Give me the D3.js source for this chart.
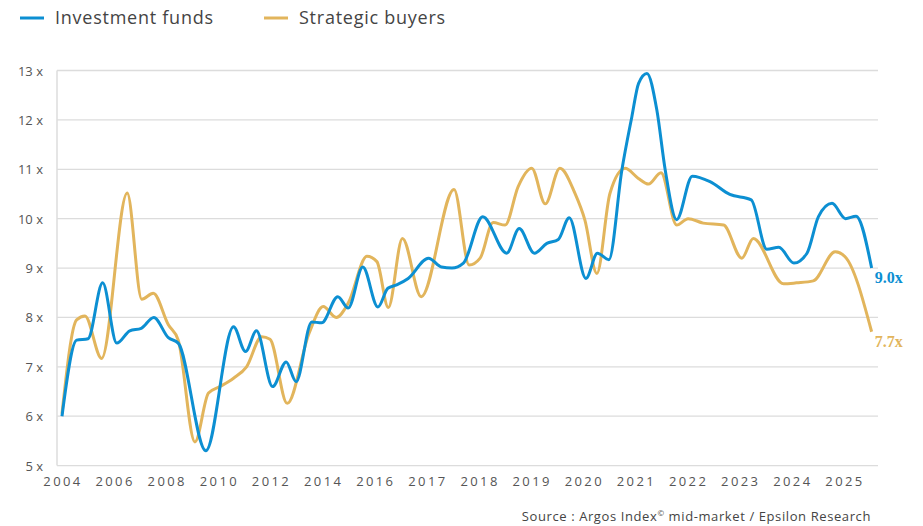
<!DOCTYPE html>
<html>
<head>
<meta charset="utf-8">
<script src="https://cdn.jsdelivr.net/npm/d3@7"></script>
<style>
  html, body { margin: 0; padding: 0; background: #fff; }
  svg { display: block; }
</style>
</head>
<body>
<svg id="chart" width="923" height="526"></svg>
<script>
// ---- Data (x = position along the category axis, 0 = 2004 label, 1 unit per label) ----
const tickLabels = ["2004","2006","2008","2010","2012","2014","2016","2017","2018","2019","2020","2021","2022","2023","2024","2025"];
const yTicks = [5, 6, 7, 8, 9, 10, 11, 12, 13];

const seriesNames = ["Investment funds", "Strategic buyers"];

const investPos = [0,0.28,0.50,0.78,1.05,1.30,1.52,1.76,2.04,2.23,2.76,3.29,3.52,3.73,4.04,4.30,4.49,4.79,4.98,5.29,5.49,5.77,6.06,6.25,6.42,6.64,7.03,7.28,7.48,7.70,8.07,8.53,8.77,9.06,9.30,9.52,9.73,10.05,10.27,10.49,10.74,10.93,11.06,11.22,11.41,11.57,11.79,12.09,12.43,12.81,13.22,13.52,13.75,14.04,14.29,14.51,14.77,15.03,15.23,15.53];
const investVal = [6.0,7.54,7.57,8.70,7.48,7.73,7.78,8.0,7.59,7.48,5.30,7.81,7.31,7.73,6.60,7.10,6.70,7.91,7.89,8.42,8.19,9.02,8.21,8.59,8.66,8.79,9.20,9.02,9.0,9.10,10.04,9.30,9.80,9.30,9.50,9.58,10.02,8.79,9.30,9.17,10.99,12.06,12.74,12.94,12.2,10.99,9.98,10.86,10.75,10.49,10.38,9.38,9.42,9.10,9.30,10.04,10.31,10.0,10.05,9.0];

const strategicPos = [0,0.28,0.44,0.76,1.25,1.53,1.75,2.04,2.23,2.55,2.81,3.03,3.29,3.54,3.83,3.99,4.32,4.74,5.01,5.26,5.49,5.85,6.04,6.26,6.53,6.89,7.52,7.81,8.02,8.27,8.50,8.75,9.01,9.27,9.55,9.84,10.03,10.26,10.51,10.80,11.05,11.25,11.49,11.79,12.01,12.30,12.69,13.04,13.26,13.84,14.09,14.41,14.83,15.02,15.53];
const strategicVal = [6.05,7.95,8.03,7.17,10.52,8.37,8.49,7.85,7.54,5.48,6.47,6.60,6.77,7.0,7.61,7.56,6.26,7.68,8.22,8.0,8.29,9.24,9.13,8.20,9.60,8.42,10.59,9.06,9.20,9.92,9.87,10.65,11.02,10.30,11.02,10.51,9.97,8.89,10.51,11.02,10.82,10.70,10.93,9.87,10.0,9.91,9.87,9.20,9.60,8.68,8.70,8.74,9.33,9.23,7.71];

const endLabels = ["9.0x", "7.7x"];
const sourceText = "Source : Argos Index";
const sourceSup = "©";
const sourceTail = " mid-market / Epsilon Research";

const colors = ["#0c8fd2", "#e2b55c"];
const font = "'Open Sans', 'Noto Sans', sans-serif";

// ---- Layout ----
const svg = d3.select("#chart");
const x = d3.scaleLinear().domain([0, 15]).range([62, 844]);
const y = d3.scaleLinear().domain([5, 13]).range([465.6, 70.5]);
const plotLeft = 57, plotRight = 878;

// gridlines
svg.append("g").selectAll("line").data(yTicks).join("line")
  .attr("x1", plotLeft).attr("x2", plotRight)
  .attr("y1", d => y(d)).attr("y2", d => y(d))
  .attr("stroke", "#dcdcdc").attr("stroke-width", 1.3);

// left axis line
svg.append("line")
  .attr("x1", plotLeft).attr("x2", plotLeft)
  .attr("y1", y(13)).attr("y2", y(5))
  .attr("stroke", "#dcdcdc").attr("stroke-width", 1.5);

// y tick labels
svg.append("g").selectAll("text").data(yTicks).join("text")
  .attr("x", 43).attr("y", d => y(d) + 5)
  .attr("text-anchor", "end")
  .attr("font-family", font)
  .attr("font-size", 13)
  .attr("fill", "#555")
  .text(d => d + " x");

// x tick labels
svg.append("g").selectAll("text").data(tickLabels).join("text")
  .attr("x", (d, i) => x(i) + 1).attr("y", 486)
  .attr("text-anchor", "middle")
  .attr("font-family", font)
  .attr("font-size", 13)
  .attr("letter-spacing", "2.4px")
  .attr("fill", "#555")
  .text(d => d);

// lines
const line = d3.line().curve(d3.curveMonotoneX).x(d => x(d[0])).y(d => y(d[1]));
const seriesData = [
  d3.zip(investPos, investVal),
  d3.zip(strategicPos, strategicVal)
];
svg.append("path").datum(seriesData[1])
  .attr("d", line).attr("fill", "none")
  .attr("stroke", colors[1]).attr("stroke-width", 3)
  .attr("stroke-linejoin", "round");
svg.append("path").datum(seriesData[0])
  .attr("d", line).attr("fill", "none")
  .attr("stroke", colors[0]).attr("stroke-width", 3)
  .attr("stroke-linejoin", "round");

// end labels
seriesData.forEach((s, i) => {
  const last = s[s.length - 1];
  svg.append("text")
    .attr("x", x(last[0]) + 3)
    .attr("y", y(last[1]) + 15)
    .attr("font-family", "'Liberation Serif', 'DejaVu Serif', serif")
    .attr("font-weight", "bold")
    .attr("font-size", 16)
    .attr("fill", colors[i])
    .text(endLabels[i]);
});

// legend
const legend = svg.append("g");
const legendX = [20, 264];
seriesNames.forEach((n, i) => {
  legend.append("line")
    .attr("x1", legendX[i]).attr("x2", legendX[i] + 24)
    .attr("y1", 18).attr("y2", 18)
    .attr("stroke", colors[i]).attr("stroke-width", 3);
  legend.append("text")
    .attr("x", legendX[i] + 35).attr("y", 24)
    .attr("font-family", font)
    .attr("font-size", 18)
    .attr("letter-spacing", "0.75px")
    .attr("fill", "#444")
    .text(n);
});

// source
const src = svg.append("text")
  .attr("x", 871).attr("y", 521)
  .attr("text-anchor", "end")
  .attr("font-family", font)
  .attr("font-size", 13)
  .attr("letter-spacing", "0.6px")
  .attr("fill", "#444");
src.append("tspan").text(sourceText);
src.append("tspan").attr("font-size", 8).attr("dy", -5).text(sourceSup);
src.append("tspan").attr("dy", 5).text(sourceTail);
</script>
</body>
</html>
